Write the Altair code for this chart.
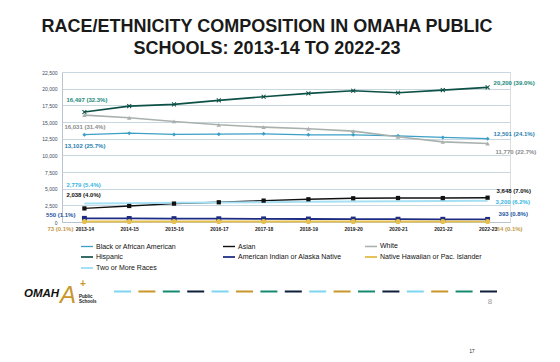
import altair as alt
import pandas as pd

# ---------------- data ----------------
years = ["2013-14", "2014-15", "2015-16", "2016-17", "2017-18",
         "2018-19", "2019-20", "2020-21", "2021-22", "2022-23"]

series_names = ["Black or African American", "Asian", "White", "Hispanic",
                "American Indian or Alaska Native",
                "Native Hawaiian or Pac. Islander", "Two or More Races"]

black = [13102, 13330, 13130, 13180, 13230, 13080, 13080, 12930, 12690, 12501]
asian = [2038, 2400, 2760, 2960, 3210, 3410, 3560, 3600, 3590, 3648]
white = [16031, 15630, 15090, 14580, 14230, 13980, 13630, 12780, 12020, 11770]
hispanic = [16497, 17390, 17640, 18250, 18790, 19300, 19690, 19390, 19790, 20200]
amer_indian = [550, 530, 510, 490, 470, 450, 440, 420, 410, 393]
hawaiian = [73, 72, 70, 69, 70, 71, 69, 67, 66, 64]
two_more = [2779, 2830, 2880, 2930, 2980, 3030, 3080, 3120, 3160, 3200]

series_values = [black, asian, white, hispanic, amer_indian, hawaiian, two_more]

first_pct = ["25.7", "4.0", "31.4", "32.3", "1.1", "0.1", "5.4"]
last_pct = ["24.1", "7.0", "22.7", "39.0", "0.8", "0.1", "6.2"]

title_lines = ["RACE/ETHNICITY COMPOSITION IN OMAHA PUBLIC",
               "SCHOOLS: 2013-14 TO 2022-23"]
y_ticks = [0, 2500, 5000, 7500, 10000, 12500, 15000, 17500, 20000, 22500]

# ---------------- styles ----------------
FONT = "Liberation Sans"
line_colors = ["#3b9fc6", "#111111", "#a9b1af", "#0c5046", "#1d2c82", "#e5c04f", "#a6e0f4"]
line_widths = [1.3, 2.0, 1.3, 1.6, 1.6, 1.4, 1.3]
label_colors = {
    "Black or African American": "#2a7fb0",
    "Asian": "#111111",
    "White": "#8a8c8c",
    "Hispanic": "#1a8a7b",
    "American Indian or Alaska Native": "#2455a0",
    "Native Hawaiian or Pac. Islander": "#c49a4c",
    "Two or More Races": "#38b6e3",
}
x_path = "M-1,-0.7L-0.7,-1L0,-0.3L0.7,-1L1,-0.7L0.3,0L1,0.7L0.7,1L0,0.3L-0.7,1L-1,0.7L-0.3,0Z"
marker_series = series_names[:6]
marker_shapes = ["diamond", "square", "triangle-up", x_path, "square", "circle"]
marker_sizes = [16, 26, 16, 22, 18, 16]

# label offsets (dx, dy, align) for first and last label of each series
label_style = {
    "Hispanic": ((-18, -12, "left"), (6, -4, "left")),
    "White": ((-20, 12, "left"), (8, 8, "left")),
    "Black or African American": ((-20, 11.5, "left"), (6, -5, "left")),
    "Two or More Races": ((-18, -18, "left"), (8, 1.5, "left")),
    "Asian": ((-18, -13, "left"), (9, -7, "left")),
    "American Indian or Alaska Native": ((-9, -3.5, "right"), (11, -5, "left")),
    "Native Hawaiian or Pac. Islander": ((-11, 7, "right"), (9, 7, "left")),
}

# ---------------- tables ----------------
rows = []
for name, vals in zip(series_names, series_values):
    for yr, v in zip(years, vals):
        rows.append({"series": name, "year": yr, "value": v})
df = pd.DataFrame(rows)

lab_rows = []
for name, vals, p0, p1 in zip(series_names, series_values, first_pct, last_pct):
    lab_rows.append({"series": name, "year": years[0], "value": vals[0],
                     "text": f"{vals[0]:,} ({p0}%)", "end": "first"})
    lab_rows.append({"series": name, "year": years[-1], "value": vals[-1],
                     "text": f"{vals[-1]:,} ({p1}%)", "end": "last"})
labels = pd.DataFrame(lab_rows)

x_enc = alt.X("year:N", sort=years, title=None,
              scale=alt.Scale(type="point", padding=0.5),
              axis=alt.Axis(labelFont=FONT, labelFontSize=5, labelFontWeight="bold",
                            labelColor="#222222", labelPadding=4, labelAngle=0,
                            ticks=False, domainColor="#b9c5cd", grid=False,
                            labelOverlap=False))
y_enc = alt.Y("value:Q", title=None,
              scale=alt.Scale(domain=[0, 22500], nice=False),
              axis=alt.Axis(values=y_ticks, format=",.0f", labelFont=FONT, labelFontSize=5,
                            labelColor="#3a4a5a", labelPadding=5, ticks=False,
                            labelOverlap=False,
                            domainColor="#b9c5cd", gridColor="#c9d7e1", gridWidth=1))

base = alt.Chart(df)

lines = base.mark_line().encode(
    x=x_enc, y=y_enc,
    color=alt.Color("series:N", scale=alt.Scale(domain=series_names, range=line_colors),
                    legend=alt.Legend(title=None, orient="none", legendX=18, legendY=167,
                                      columns=3, direction="horizontal",
                                      symbolType="stroke", symbolSize=144,
                                      symbolStrokeWidth=1.6, labelFont=FONT, labelFontSize=7,
                                      labelColor="#111111", columnPadding=19, rowPadding=0,
                                      gridAlign="all", labelOffset=2, padding=0,
                                      labelLimit=200)),
    strokeWidth=alt.StrokeWidth("series:N", scale=alt.Scale(domain=series_names, range=line_widths),
                                legend=None),
)

points = base.transform_filter(
    alt.FieldOneOfPredicate(field="series", oneOf=marker_series)
).mark_point(filled=True, opacity=1).encode(
    x=x_enc, y=y_enc,
    color=alt.Color("series:N", scale=alt.Scale(domain=series_names, range=line_colors)),
    shape=alt.Shape("series:N", scale=alt.Scale(domain=marker_series, range=marker_shapes),
                    legend=None),
    size=alt.Size("series:N", scale=alt.Scale(domain=marker_series, range=marker_sizes),
                  legend=None),
)

layers = [lines, points]
for name in series_names:
    for i, end in enumerate(["first", "last"]):
        dx, dy, align = label_style[name][i]
        layers.append(
            alt.Chart(labels).transform_filter(
                (alt.datum.series == name) & (alt.datum.end == end)
            ).mark_text(dx=dx, dy=dy, align=align, baseline="middle", font=FONT,
                        fontSize=6, fontWeight="bold", color=label_colors[name]).encode(
                x=x_enc, y=y_enc, text="text:N")
        )

# ---------------- footer decoration ----------------
dummy = pd.DataFrame({"k": [0]})
dash_colors = ["#7fd6ef", "#c9962a", "#15896f", "#0e1f3b"]
for k, c in enumerate(dash_colors):
    layers.append(
        alt.Chart(dummy).mark_rule(color=c, strokeWidth=2, strokeDash=[17, 80.6]).encode(
            x=alt.value(52 + 24.4 * k), x2=alt.value(435), y=alt.value(219.5))
    )
footer_texts = [
    ("OMAH", -38, 222, 11.5, "bold", "italic", "#111111", "left"),
    ("A", 6, 224, 24, "normal", "italic", "#c9962a", "center"),
    ("+", 21, 211.5, 10, "bold", "normal", "#c9962a", "center"),
    ("Public", 17, 224.7, 4.5, "bold", "normal", "#111111", "left"),
    ("Schools", 17, 230.3, 4.5, "bold", "normal", "#111111", "left"),
    ("8", 428, 229.5, 8, "normal", "normal", "#9a9a9a", "center"),
    ("17", 410, 280, 4.5, "normal", "normal", "#111111", "center"),
]
for t, xx, yy, fs, fw, fst, col, al in footer_texts:
    layers.append(
        alt.Chart(dummy).mark_text(text=t, font=FONT, fontSize=fs, fontWeight=fw,
                                   fontStyle=fst, color=col, align=al,
                                   baseline="middle").encode(
            x=alt.value(xx), y=alt.value(yy))
    )

chart = alt.layer(*layers).properties(
    width=448, height=150,
    title=alt.TitleParams(title_lines, font=FONT, fontSize=18, fontWeight="bold",
                          color="#1a1a1a", anchor="middle", dx=-19, offset=12,
                          lineHeight=22),
    autosize=alt.AutoSizeParams(type="none"),
    padding={"left": 54, "top": 64, "right": 36, "bottom": 132},
).configure_view(stroke=None).configure(background="white")

chart.save("out.html", embed_options={"renderer": "svg", "actions": False})
